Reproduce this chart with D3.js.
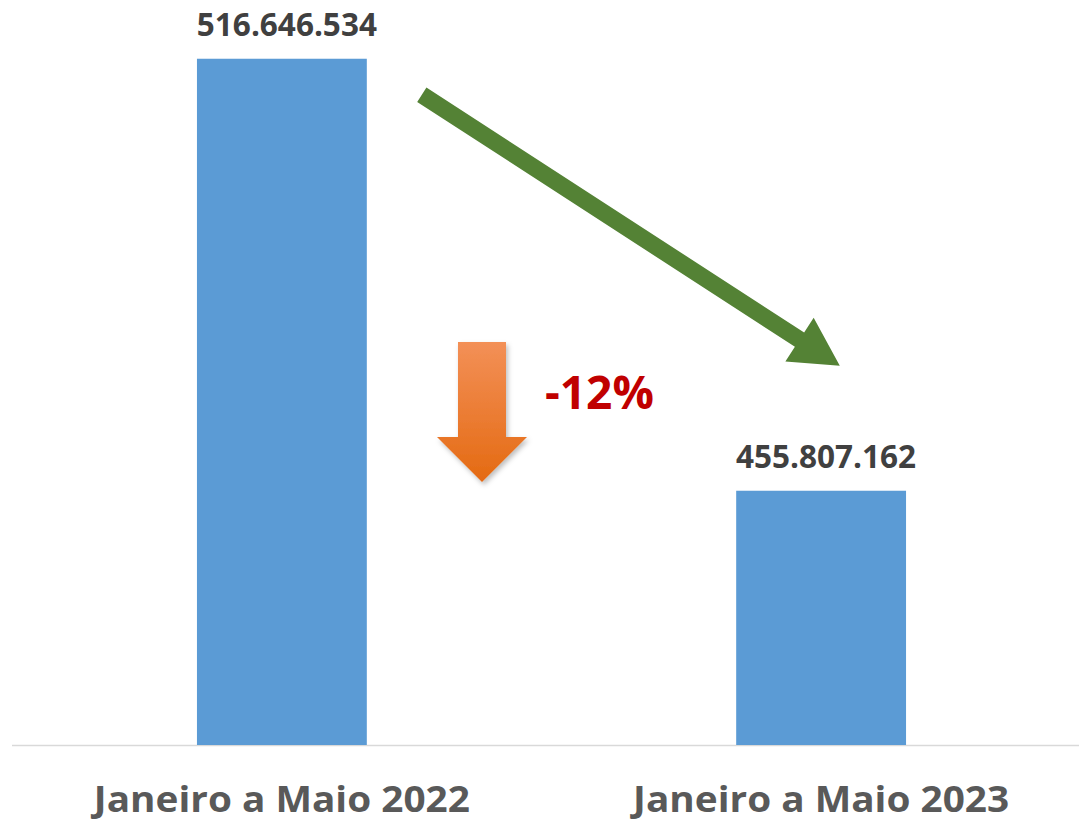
<!DOCTYPE html>
<html>
<head>
<meta charset="utf-8">
<script src="https://cdn.jsdelivr.net/npm/d3@7"></script>
<style>
  body { margin: 0; background: #fff; }
  svg { display: block; }
</style>
</head>
<body>
<div id="chart"></div>
<script>
// data
var categories = ["Janeiro a Maio 2022", "Janeiro a Maio 2023"];
var values = [516646534, 455807162];
var valueLabels = ["516.646.534", "455.807.162"];
var changeLabel = "-12%";

var svgWidth = 1079;
var svgHeight = 822;
var baseY = 745;

var svg = d3.select("#chart")
  .append("svg")
  .attr("width", svgWidth)
  .attr("height", svgHeight);

var defs = svg.append("defs");

var grad = defs.append("linearGradient")
  .attr("id", "orangeGrad")
  .attr("x1", 0).attr("y1", 0)
  .attr("x2", 0).attr("y2", 1);
grad.append("stop").attr("offset", "0%").attr("stop-color", "#f39057");
grad.append("stop").attr("offset", "100%").attr("stop-color", "#e46a12");

var shadow = defs.append("filter")
  .attr("id", "shadow")
  .attr("x", "-20%").attr("y", "-20%")
  .attr("width", "150%").attr("height", "150%");
shadow.append("feDropShadow")
  .attr("dx", 2).attr("dy", 3)
  .attr("stdDeviation", 2.5)
  .attr("flood-color", "#000")
  .attr("flood-opacity", 0.25);

// scales
var x = d3.scaleBand()
  .domain(categories)
  .range([12, 1091])
  .paddingInner(0.685)
  .paddingOuter(0.343);

// value axis does not start at zero
var y = d3.scaleLinear()
  .domain([420000000, 524920000])
  .range([baseY, 0]);

// baseline
svg.append("line")
  .attr("x1", 12)
  .attr("x2", svgWidth)
  .attr("y1", baseY + 0.5)
  .attr("y2", baseY + 0.5)
  .attr("stroke", "#d9d9d9")
  .attr("stroke-width", 1.5);

// bars
svg.selectAll(".bar")
  .data(values)
  .enter()
  .append("rect")
  .attr("class", "bar")
  .attr("x", function(d, i) { return x(categories[i]); })
  .attr("y", function(d) { return y(d); })
  .attr("width", x.bandwidth())
  .attr("height", function(d) { return baseY - y(d); })
  .attr("fill", "#5b9bd5");

// value labels
svg.selectAll(".valLabel")
  .data(values)
  .enter()
  .append("text")
  .attr("class", "valLabel")
  .attr("x", function(d, i) { return x(categories[i]) + x.bandwidth() / 2 + 5; })
  .attr("y", function(d) { return y(d) - 23; })
  .attr("text-anchor", "middle")
  .attr("font-family", "'Open Sans', sans-serif")
  .attr("font-weight", "bold")
  .attr("font-size", 31.5)
  .attr("fill", "#404040")
  .text(function(d, i) { return valueLabels[i]; });

// category labels
svg.selectAll(".catLabel")
  .data(categories)
  .enter()
  .append("text")
  .attr("class", "catLabel")
  .attr("x", function(d) { return x(d) + x.bandwidth() / 2; })
  .attr("y", 812)
  .attr("text-anchor", "middle")
  .attr("font-family", "'Open Sans', sans-serif")
  .attr("font-weight", "bold")
  .attr("font-size", 36)
  .attr("fill", "#595959")
  .attr("textLength", 376)
  .attr("lengthAdjust", "spacingAndGlyphs")
  .text(function(d) { return d; });

// green trend arrow, from above bar 1 towards bar 2
var x0 = x(categories[0]) + x.bandwidth() + 55;
var y0 = y(values[0]) + 36;
var x1 = x(categories[1]) + x.bandwidth() * 0.61;
var y1 = y(values[1]) - 125;
var dx = x1 - x0, dy = y1 - y0;
var len = Math.sqrt(dx * dx + dy * dy);
var ux = dx / len, uy = dy / len;
var px = -uy, py = ux;
var shaftW = 8.5, headW = 26, headL = 48;
var bx = x1 - ux * headL, by = y1 - uy * headL;
var greenPts = [
  [x0 + px * shaftW, y0 + py * shaftW],
  [bx + px * shaftW, by + py * shaftW],
  [bx + px * headW, by + py * headW],
  [x1, y1],
  [bx - px * headW, by - py * headW],
  [bx - px * shaftW, by - py * shaftW],
  [x0 - px * shaftW, y0 - py * shaftW]
];
svg.append("path")
  .attr("d", d3.line()(greenPts) + "Z")
  .attr("fill", "#548235");

// orange down arrow
var ox = 482, oTop = 342, oHead = 437, oTip = 482;
var orangePts = [
  [ox - 24, oTop], [ox + 24, oTop], [ox + 24, oHead], [ox + 45, oHead],
  [ox, oTip], [ox - 45, oHead], [ox - 24, oHead]
];
svg.append("path")
  .attr("d", d3.line()(orangePts) + "Z")
  .attr("fill", "url(#orangeGrad)")
  .attr("filter", "url(#shadow)");

svg.append("text")
  .attr("x", 545)
  .attr("y", 409)
  .attr("font-family", "'Open Sans', sans-serif")
  .attr("font-weight", "bold")
  .attr("font-size", 46)
  .attr("fill", "#c00000")
  .text(changeLabel);
</script>
</body>
</html>
